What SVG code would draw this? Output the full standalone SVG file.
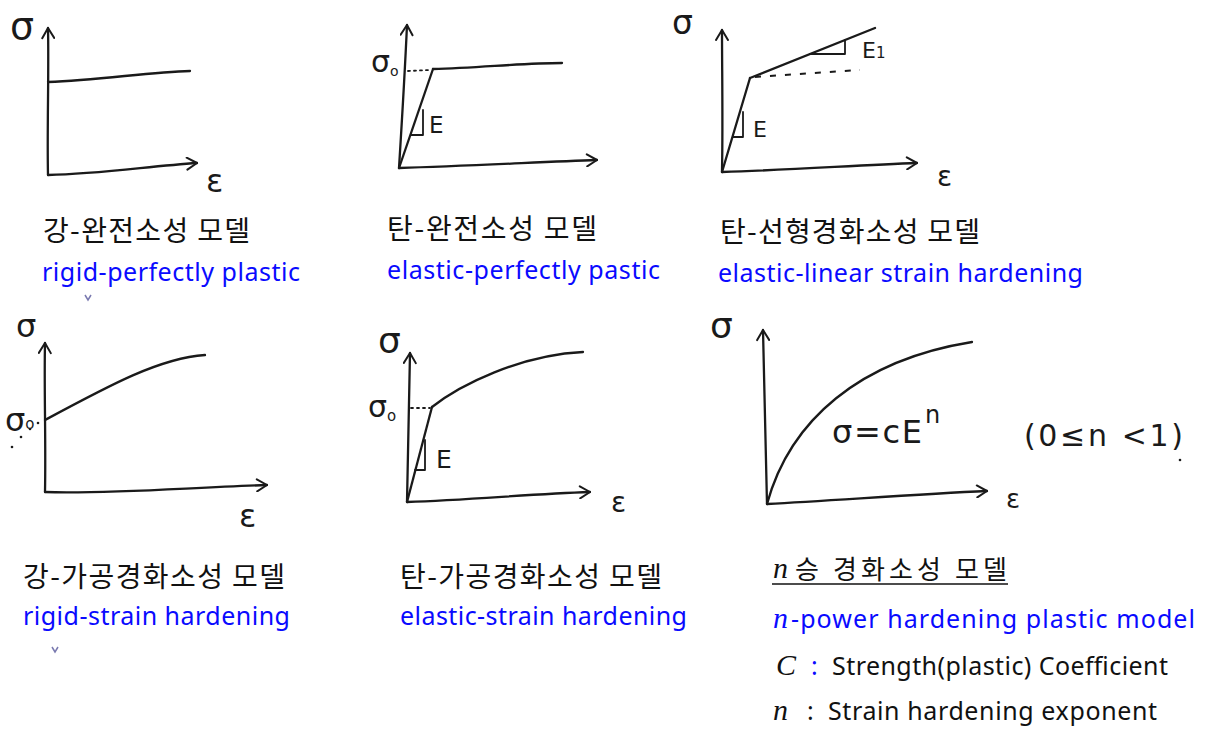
<svg xmlns="http://www.w3.org/2000/svg" width="1208" height="732" viewBox="0 0 1208 732">
<defs>
<marker id="arr" viewBox="0 0 14 14" refX="12" refY="7" markerWidth="14" markerHeight="14" markerUnits="userSpaceOnUse" orient="auto">
<path d="M2,1 L12,7 L2,13" fill="none" stroke="#1a1a1a" stroke-width="2" stroke-linecap="round" stroke-linejoin="round"/>
</marker>
<style>
.ln{fill:none;stroke:#1a1a1a;stroke-width:2.3;stroke-linecap:round;stroke-linejoin:round}
.th{fill:none;stroke:#1a1a1a;stroke-width:1.8;stroke-linecap:round;stroke-linejoin:round}
.ax{fill:none;stroke:#1a1a1a;stroke-width:2.3;stroke-linecap:round;marker-end:url(#arr)}
.dt{fill:none;stroke:#1a1a1a;stroke-width:1.8;stroke-dasharray:2 4;stroke-linecap:round}
.ds{fill:none;stroke:#1a1a1a;stroke-width:2;stroke-dasharray:6 9}
.hw{font-family:"DejaVu Sans",sans-serif;fill:#1a1a1a}
.ko{font-family:"Noto Sans CJK KR","Noto Sans",sans-serif;fill:#111;font-size:28px}
.en{font-family:"Noto Sans","Liberation Sans",sans-serif;fill:#0a0aff;font-size:25px}
.bk{font-family:"Noto Sans","Liberation Sans",sans-serif;fill:#111;font-size:25px}
.m{font-family:"Liberation Serif","DejaVu Serif",serif;font-style:italic;font-size:30px}
</style>
</defs>
<rect width="1208" height="732" fill="#ffffff"/>

<g id="rigid-perfectly-plastic">
<path class="ax" d="M48,175 C47,130 49,70 48,28"/>
<path class="ax" d="M48,175 C100,174 150,166 197,163"/>
<path class="ln" d="M48,82 C100,80 150,72 190,71"/>
<text class="hw" x="10" y="39" font-size="38">σ</text>
<text class="hw" x="206" y="192" font-size="32">ε</text>
<text class="ko" x="43" y="241" textLength="207">강-완전소성 모델</text>
<text class="en" x="42" y="281" textLength="258">rigid-perfectly plastic</text>
<path d="M85,295 L88,300 L91,295" fill="none" stroke="#7a7ab0" stroke-width="1.5"/>
</g>

<g id="elastic-perfectly-plastic">
<path class="ax" d="M399,168 C402,120 405,70 407,25"/>
<path class="ax" d="M399,168 C470,166 540,162 597,160"/>
<path class="ln" d="M399,168 L433,69"/>
<path class="ln" d="M433,69 C480,68 520,63 562,63"/>
<path class="dt" d="M408,71 L430,70"/>
<path class="th" d="M423,110 L423,135 L411,135"/>
<text class="hw" x="429" y="133" font-size="23">E</text>
<text class="hw" x="371" y="72" font-size="30">σ<tspan font-size="14" dy="4">o</tspan></text>
<text class="ko" x="387" y="239" textLength="210">탄-완전소성 모델</text>
<text class="en" x="387" y="279" textLength="273">elastic-perfectly pastic</text>
</g>

<g id="elastic-linear-strain-hardening">
<path class="ax" d="M722,172 C723,120 722,70 722,30"/>
<path class="ax" d="M722,172 C790,170 860,165 917,163"/>
<path class="ln" d="M722,172 L750,78"/>
<path class="ln" d="M750,78 L875,28"/>
<path class="ds" d="M755,77 L860,70"/>
<path class="th" d="M743,112 L743,137 L733,137"/>
<path class="th" d="M810,54 L845,54 L845,40"/>
<text class="hw" x="753" y="137" font-size="22">E</text>
<text class="hw" x="862" y="58" font-size="22">E<tspan font-size="15">1</tspan></text>
<text class="hw" x="672" y="34" font-size="33">σ</text>
<text class="hw" x="937" y="186" font-size="28">ε</text>
<text class="ko" x="720" y="242" textLength="260">탄-선형경화소성 모델</text>
<text class="en" x="718" y="282" textLength="365">elastic-linear strain hardening</text>
</g>

<g id="rigid-strain-hardening">
<path class="ax" d="M45,492 C46,440 44,390 45,343"/>
<path class="ax" d="M45,492 C110,494 180,488 267,485"/>
<path class="ln" d="M45,420 C110,385 160,358 205,355"/>
<circle cx="38" cy="423" r="1.3" fill="#1a1a1a"/>
<circle cx="30" cy="429" r="1.3" fill="#1a1a1a"/>
<circle cx="21" cy="437" r="1.3" fill="#1a1a1a"/>
<circle cx="12" cy="447" r="1.3" fill="#1a1a1a"/>
<text class="hw" x="16" y="337" font-size="32">σ</text>
<text class="hw" x="5" y="431" font-size="32">σ<tspan font-size="15" dy="-2">o</tspan></text>
<text class="hw" x="239" y="527" font-size="32">ε</text>
<text class="ko" x="23" y="587" textLength="262">강-가공경화소성 모델</text>
<text class="en" x="23" y="625" textLength="267">rigid-strain hardening</text>
<path d="M52,647 L55,652 L58,647" fill="none" stroke="#7a7ab0" stroke-width="1.5"/>
</g>

<g id="elastic-strain-hardening">
<path class="ax" d="M407,502 C408,450 409,400 410,353"/>
<path class="ax" d="M407,502 C470,500 530,494 590,492"/>
<path class="ln" d="M407,502 L432,407"/>
<path class="ln" d="M432,407 C460,385 520,355 583,352"/>
<path class="dt" d="M411,408 L430,408"/>
<path class="th" d="M425,440 L425,470 L415,470"/>
<text class="hw" x="436" y="468" font-size="25">E</text>
<text class="hw" x="378" y="353" font-size="36">σ</text>
<text class="hw" x="368" y="417" font-size="30">σ<tspan font-size="15" dy="4">o</tspan></text>
<text class="hw" x="611" y="512" font-size="28">ε</text>
<text class="ko" x="400" y="587" textLength="262">탄-가공경화소성 모델</text>
<text class="en" x="400" y="625" textLength="287">elastic-strain hardening</text>
</g>

<g id="n-power-hardening">
<path class="ax" d="M767,504 C766,450 764,390 763,330"/>
<path class="ax" d="M767,504 C840,500 920,494 987,491"/>
<path class="ln" d="M767,504 C790,420 860,360 972,342"/>
<text class="hw" x="710" y="338" font-size="36">σ</text>
<text class="hw" x="1006" y="508" font-size="26">ε</text>
<text class="hw" x="832" y="443" font-size="32" textLength="90">σ=cE</text>
<text class="hw" x="925" y="423" font-size="24">n</text>
<text class="hw" x="1024" y="446" font-size="30" textLength="159">(0≤n &lt;1)</text>
<circle cx="1180" cy="460" r="1.3" fill="#1a1a1a"/>
<text class="m" x="773" y="578" fill="#111">n</text>
<text class="ko" x="795" y="579" style="font-size:26px" textLength="212">승 경화소성 모델</text>
<path d="M772,584 L1008,584" stroke="#111" stroke-width="1.5"/>
<text class="m" x="773" y="628" fill="#0a0aff">n</text>
<text class="en" x="791" y="628" textLength="404">-power hardening plastic model</text>
<text class="m" x="776" y="675" fill="#111">C</text>
<text class="en" x="811" y="675">:</text>
<text class="bk" x="832" y="675" textLength="336">Strength(plastic) Coefficient</text>
<text class="m" x="773" y="720" fill="#111">n</text>
<text class="bk" x="807" y="720">:</text>
<text class="bk" x="828" y="720" textLength="329">Strain hardening exponent</text>
</g>
</svg>
